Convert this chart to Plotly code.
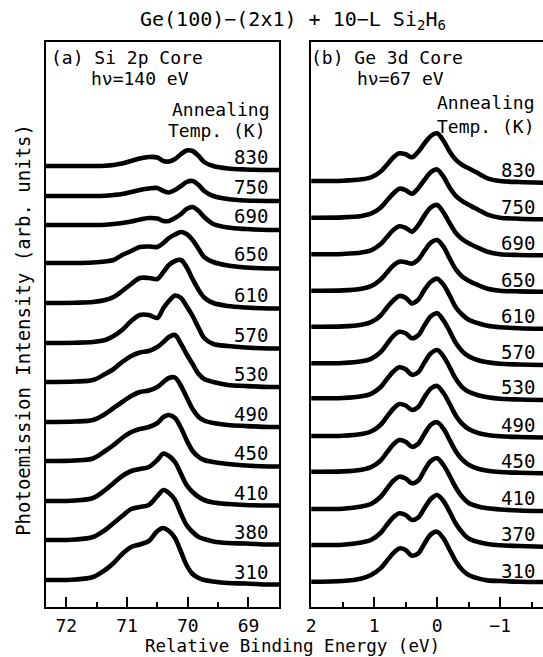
import plotly.graph_objects as go

# ---------------- data ----------------
# Si 2p panel: relative binding energy grid (eV)
si_energy = [72.34, 71.85, 71.56, 71.36, 71.22, 71.08, 70.93, 70.79, 70.64, 70.50, 70.40, 70.31,
             70.21, 70.11, 70.02, 69.92, 69.82, 69.73, 69.58, 69.34, 69.05, 68.67, 68.49]
si_temps = ["830", "750", "690", "650", "610", "570", "530", "490", "450", "410", "380", "310"]
si_offsets = [441, 411, 382, 344, 304, 264, 225, 185, 146, 106, 67, 27]

si_830 = [0, 0, 0, 0.3, 1, 2.5, 5, 7.5, 9, 8.5, 5, 4.5, 7, 12, 15.5, 15, 10, 4, 0, -2.5, -3.5, -4, -4]
si_750 = [0, 0, 0, 0.3, 1, 2, 4, 6, 7.5, 8, 5, 3.5, 6, 10, 14, 15, 11, 5, 0, -3, -4.5, -5, -5]
si_690 = [0, 0, 0, 0.3, 1, 2, 3.5, 5.5, 7, 6.5, 4, 4, 7, 11, 16, 18, 14, 8, 1, -2.5, -4, -5, -5]
si_650 = [0, 0, 0.5, 1.5, 3, 8, 12, 16, 16.5, 16, 20, 25, 28.5, 31, 29, 23, 14, 6, 1, -2.5, -4.5, -5.5, -5.5]
si_610 = [0, 0.3, 1, 3, 6, 12, 19, 25, 25, 24, 31, 38, 42, 43, 36, 24, 13, 5.5, 0, -3, -4.5, -5.5, -5.5]
si_570 = [0, 0.3, 1, 3, 7, 13, 22, 28, 28, 25, 35, 42, 47.5, 45, 37, 27, 15, 5, -1, -3, -4.5, -5.5, -5.5]
si_530 = [0, 0.5, 2, 8, 13, 20, 26, 29.5, 31, 35, 40, 45, 47, 38, 28, 18, 8, 3, 0, -3, -4, -5, -5]
si_490 = [0, 0.5, 2, 8, 14, 20, 26, 30, 31.5, 35, 40, 44, 44.5, 36, 25, 13, 5, 1.5, -1, -3, -4, -5, -5]
si_450 = [0, 0.5, 2.5, 10, 16, 23, 29, 32, 34, 38, 44, 46, 43, 33, 21, 10, 4, 1, -1, -3, -4.5, -5.5, -5.5]
si_410 = [0, 0.5, 3, 11, 18, 25, 30, 32, 34, 41, 47.5, 45, 39, 27, 16, 9, 4, 1, -1.5, -3, -4, -4.5, -4.5]
si_380 = [0, 0.5, 3, 10, 17, 24, 31, 33, 35, 44, 50, 47, 40, 26, 15, 8, 3, 1, -1.5, -3, -3.5, -4.5, -4.5]
si_310 = [0, 0.5, 3, 10, 17, 26, 33, 35.5, 39, 49, 52, 49, 42, 28, 15, 6, 2, 0, -1.5, -3, -3.5, -4.5, -4.5]
si_curves = [si_830, si_750, si_690, si_650, si_610, si_570, si_530, si_490, si_450, si_410, si_380, si_310]

# Ge 3d panel
ge_energy = [2.0, 1.5, 1.2, 1.05, 0.9, 0.8, 0.7, 0.6, 0.5, 0.4, 0.3, 0.2, 0.1, 0.0,
             -0.1, -0.2, -0.3, -0.4, -0.5, -0.65, -0.8, -1.0, -1.3, -1.68]
ge_temps = ["830", "750", "690", "650", "610", "570", "530", "490", "450", "410", "370", "310"]
ge_offsets = [426, 389.3, 352.7, 316.3, 280.3, 243.7, 208.7, 171, 135.3, 98, 62, 25.3]

ge_830 = [0, 0.3, 1.7, 3.7, 9.3, 16, 23.3, 27.7, 26.7, 23.7, 29.3, 37.7, 45, 47.7, 40.3, 29.3, 21, 16, 12.7, 7.7, 2.7, 0, -1, -1.7]
ge_750 = [0, 0.3, 1.7, 4, 10, 17, 24, 29, 27.5, 24, 29.5, 38, 45.5, 48.3, 41, 30, 21.5, 16.5, 13, 8, 3, 0, -1, -1.5]
ge_690 = [0, 0.3, 1.7, 4, 10, 17, 24, 28, 26.5, 22.7, 29, 39, 47, 49.3, 42, 31, 21, 15, 11, 6.5, 2.5, 0, -0.7, -1]
ge_650 = [0, 0.3, 2, 4.5, 11, 18, 25, 29, 28.5, 27, 31, 40, 48, 50.7, 44, 32, 21, 14, 10, 5.5, 2, 0, -0.7, -1]
ge_610 = [0, 0.3, 2, 4.5, 11, 19, 26, 30.7, 29, 23.3, 27, 37, 45, 48, 42, 31, 19, 12, 7, 3.5, 1, -0.5, -1.5, -2]
ge_570 = [0, 0.3, 2, 4.5, 11, 19, 27, 31.5, 30, 25, 28, 38, 47, 50, 43, 32, 20, 12, 7, 3, 1, -0.5, -1.2, -1.7]
ge_530 = [0, 0.3, 2, 4.5, 11, 19, 26.5, 31, 29, 23.5, 26, 36, 45, 48.3, 42, 31, 19, 11, 6.5, 3, 1, -0.5, -1.2, -1.7]
ge_490 = [0, 0.3, 2, 4.5, 11, 19, 27, 32, 30.5, 26, 29, 39, 47.5, 50, 43, 32, 20, 12, 7, 3, 1, -0.3, -1, -1.5]
ge_450 = [0, 0.3, 2, 4.5, 11, 19, 27, 31.7, 30, 25, 28, 38, 47, 49.5, 43, 31.5, 20, 12, 7, 3, 1, -0.3, -1, -1.5]
ge_410 = [0, 0.3, 2.5, 5, 12, 20, 28, 32.3, 30.5, 25.7, 28.5, 39, 48, 50.7, 44, 33, 21, 12, 6, 2.5, 0.7, -0.5, -1.5, -2]
ge_370 = [0, 0.3, 2.5, 5, 12, 20, 27.5, 31.7, 30, 25, 27.5, 37, 46, 50, 44, 33, 21, 12.5, 6.5, 3, 1, -0.3, -1, -1.7]
ge_310 = [0, 0.7, 3.3, 6.7, 13.3, 20.7, 28.3, 33.3, 31.7, 26, 28.3, 38.3, 47.3, 50, 43.3, 31.7, 20, 11.7, 6.7, 3.3, 1.3, 0.7, 0, -0.3]
ge_curves = [ge_830, ge_750, ge_690, ge_650, ge_610, ge_570, ge_530, ge_490, ge_450, ge_410, ge_370, ge_310]

si_ticks = [72, 71, 70, 69]
si_ticktext = ["72", "71", "70", "69"]
ge_ticks = [2, 1, 0, -1]
ge_ticktext = ["2", "1", "0", "\u22121"]

# ---------------- figure ----------------
W, H = 543, 657
FONT = "DejaVu Sans Mono"


def px(x):
    return x / W


def py(y):
    return 1 - y / H


fig = go.Figure()

line_style = dict(color="black", width=4.6, shape="spline", smoothing=0.9)
for base, curve in zip(si_offsets, si_curves):
    fig.add_trace(go.Scatter(x=si_energy, y=[base + v for v in curve], mode="lines",
                             line=line_style, xaxis="x", yaxis="y",
                             hoverinfo="skip", showlegend=False))
for base, curve in zip(ge_offsets, ge_curves):
    fig.add_trace(go.Scatter(x=ge_energy, y=[base + v for v in curve], mode="lines",
                             line=line_style, xaxis="x2", yaxis="y2",
                             hoverinfo="skip", showlegend=False))

y_dom = [py(607), py(41.5)]
axis_common = dict(showgrid=False, zeroline=False, showline=True, linecolor="black",
                   linewidth=2, ticks="inside", ticklen=10, tickwidth=1.5, tickcolor="black",
                   ticklabelstandoff=1,
                   tickfont=dict(family=FONT, size=18, color="black"),
                   minor=dict(ticks="inside", ticklen=5, tickwidth=1.5, tickcolor="black",
                              dtick=0.5, tick0=0, showgrid=False))

fig.update_layout(
    width=W, height=H,
    margin=dict(l=0, r=0, t=0, b=0),
    paper_bgcolor="white", plot_bgcolor="white",
    font=dict(family=FONT, color="black"),
    xaxis=dict(domain=[px(41), px(277)], range=[72.34, 68.49], anchor="y",
               tickmode="array", tickvals=si_ticks, ticktext=si_ticktext,
               mirror=True, **axis_common),
    yaxis=dict(domain=y_dom, range=[0, 565.5], anchor="x", showticklabels=False,
               ticks="", showgrid=False, zeroline=False, showline=True,
               linecolor="black", linewidth=2, mirror=True),
    xaxis2=dict(domain=[px(309), 1.0], range=[2.0, -1.68], anchor="y2",
                tickmode="array", tickvals=ge_ticks, ticktext=ge_ticktext,
                mirror=True, **axis_common),
    yaxis2=dict(domain=y_dom, range=[0, 565.5], anchor="x2", showticklabels=False,
                ticks="", showgrid=False, zeroline=False, showline=True,
                linecolor="black", linewidth=2, mirror=False),
)

ann = []


def text(x, y, s, size=18, xanchor="left", angle=0):
    ann.append(dict(x=px(x), y=py(y), xref="paper", yref="paper", text=s, showarrow=False,
                    xanchor=xanchor, yanchor="middle", textangle=angle,
                    font=dict(family=FONT, size=size, color="black")))


text(291, 20, "Ge(100)\u2212(2x1) + 10\u2212L Si<sub>2</sub>H<sub>6</sub>", size=20, xanchor="center")
text(44, 57, "(a) Si 2p Core")
text(85, 78, "h\u03bd=140 eV")
text(167, 109, "Annealing")
text(163, 130, "Temp. (K)")
text(307, 57, "(b) Ge 3d Core")
text(353, 78, "h\u03bd=67 eV")
text(434, 103, "Annealing")
text(434, 126, "Temp. (K)")
text(290, 646, "Relative Binding Energy (eV)", size=17.5, xanchor="center")
text(18, 330, "Photoemission Intensity (arb. units)", size=19, xanchor="center", angle=-90)

for base, t in zip(si_offsets, si_temps):
    ann.append(dict(x=68.65, y=base + 8.5, xref="x", yref="y", text=t, showarrow=False,
                    xanchor="right", yanchor="middle",
                    font=dict(family=FONT, size=19, color="black")))
for base, t in zip(ge_offsets, ge_temps):
    ann.append(dict(x=-1.586, y=base + 11, xref="x2", yref="y2", text=t, showarrow=False,
                    xanchor="right", yanchor="middle",
                    font=dict(family=FONT, size=19, color="black")))

fig.update_layout(annotations=ann)
fig.write_html("out.html")
